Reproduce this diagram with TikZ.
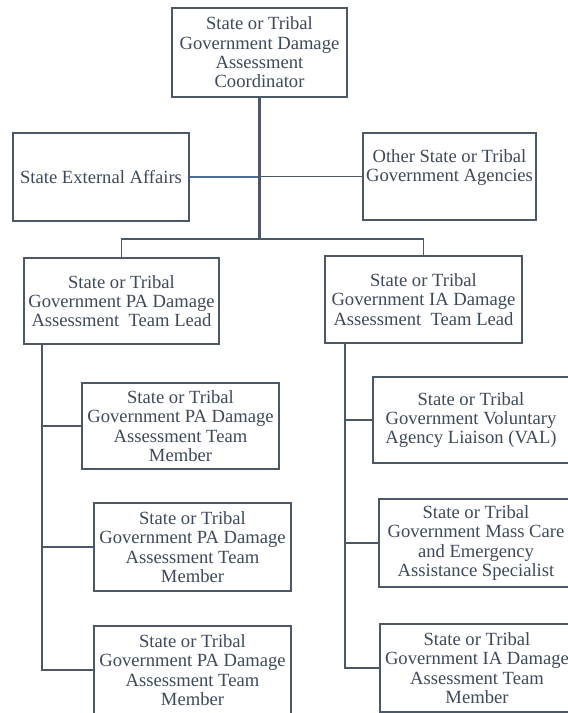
\documentclass[tikz,border=0pt]{standalone}
\usepackage{fontspec}
\setmainfont{Liberation Serif}
\definecolor{linec}{HTML}{4A5868}
\definecolor{textc}{HTML}{3E4A5C}
\definecolor{bluec}{HTML}{4E6C94}
\begin{document}
\begin{tikzpicture}[x=1pt,y=-1pt,
  box/.style={draw=linec, line width=1.3pt, text=textc, align=center, inner sep=0pt,
    font=\fontsize{18.6}{19.3}\selectfont},
  conn/.style={draw=linec, line width=1.3pt},
  trunkline/.style={draw=linec, line width=2.6pt}]
\useasboundingbox (0,0) rectangle (568,713);
\clip (0,0) rectangle (568,713);
\fill[white] (0,0) rectangle (568,713);
\node[box, minimum width=175pt, minimum height=89pt] (top) at (259.5,52.5) {State or Tribal\\Government Damage\\Assessment\\Coordinator};
\node[box, minimum width=176pt, minimum height=88pt] (ext) at (101,177) {State External Affairs};
\node[box, minimum width=173pt, minimum height=87pt] (other) at (449.5,176.5) {Other State or Tribal\\Government Agencies\\[3pt]};
\node[box, minimum width=195pt, minimum height=86pt] (pal) at (121.5,301) {State or Tribal\\Government PA Damage\\Assessment\ \ Team Lead};
\node[box, minimum width=197pt, minimum height=87pt] (ial) at (423.5,299.5) {State or Tribal\\Government IA Damage\\Assessment\ \ Team Lead};
\node[box, minimum width=197pt, minimum height=86pt] (m1) at (180.5,426) {State or Tribal\\Government PA Damage\\Assessment Team\\Member};
\node[box, minimum width=197pt, minimum height=88pt] (m2) at (192.5,547) {State or Tribal\\Government PA Damage\\Assessment Team\\Member};
\node[box, minimum width=197pt, minimum height=88pt] (m3) at (192.5,670) {State or Tribal\\Government PA Damage\\Assessment Team\\Member};
\node[box, minimum width=196pt, minimum height=86pt] (r1) at (471,420) {State or Tribal\\Government Voluntary\\Agency Liaison (VAL)};
\node[box, minimum width=194pt, minimum height=88pt] (r2) at (476,543) {State or Tribal\\Government Mass Care\\and Emergency\\Assistance Specialist};
\node[box, minimum width=194pt, minimum height=88pt] (r3) at (477,668) {State or Tribal\\Government IA Damage\\Assessment Team\\Member};
% connectors
\coordinate (bus) at (259.5,239);
\draw[bluec, line width=1.3pt] (ext.east) -- (ext.east -| bus);
\draw[conn] (other.west) -- (other.west -| bus);
\draw[conn] (pal.north) |- (bus) -| (ial.north);
\draw[trunkline] (top.south) -- (bus);
\coordinate (pc) at (42,344);
\draw[conn] (pc) |- (m3.west);
\draw[conn] (m1.west) -- (m1.west -| pc);
\draw[conn] (m2.west) -- (m2.west -| pc);
\coordinate (ic) at (345,343);
\draw[conn] (ic) |- (r3.west);
\draw[conn] (r1.west) -- (r1.west -| ic);
\draw[conn] (r2.west) -- (r2.west -| ic);
\end{tikzpicture}
\end{document}
